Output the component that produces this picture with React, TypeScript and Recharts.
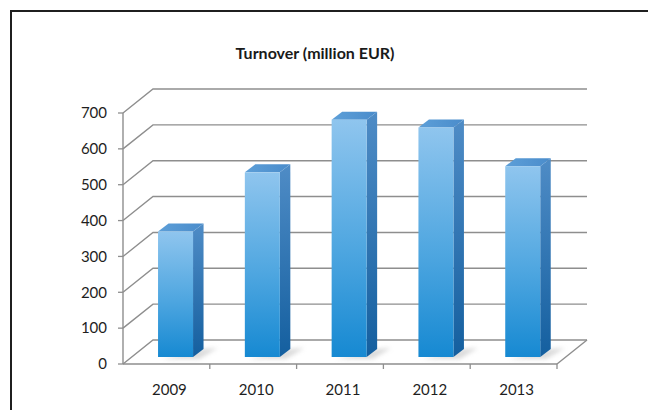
import React from 'react';
import { BarChart, Bar, XAxis, YAxis, CartesianGrid } from 'recharts';

const chartTitle = 'Turnover (million EUR)';
const years = ['2009', '2010', '2011', '2012', '2013'];
const turnover = [350, 515, 662, 640, 532];
const yTicks = [0, 100, 200, 300, 400, 500, 600, 700];

const data = years.map((year, i) => ({ year, value: turnover[i] }));

const W = 648;
const H = 410;
const WALL_DX = 30;
const WALL_DY = -24;
const BAR_SHIFT_X = 9;
const BAR_SHIFT_Y = -7;
const BAR_DX = 10.5;
const BAR_DY = -8;
const PLOT_LEFT = 123;
const PLOT_RIGHT = 557;
const BAND = (PLOT_RIGHT - PLOT_LEFT) / years.length;
const GRID = '#8e8e8e';
const FONT = 'Lato, "Open Sans", sans-serif';

const GridLine = (props: any) => {
  const { x1, y1, x2 } = props;
  return (
    <path
      key={props.key ?? `g-${y1}`}
      d={`M${x1},${y1} L${x1 + WALL_DX},${y1 + WALL_DY} L${x2 + WALL_DX},${y1 + WALL_DY}`}
      fill="none"
      stroke={GRID}
      strokeWidth={1.4}
    />
  );
};

const Bar3D = (props: any) => {
  const { x, y, width, height } = props;
  if (width == null || height == null) return null;
  const fx = x + BAR_SHIFT_X;
  const fy = y + BAR_SHIFT_Y;
  const w = width;
  const b = fy + height;
  return (
    <g>
      <polygon
        points={`${fx + 4},${b + 2} ${fx + w + 6},${b + 2} ${fx + w + BAR_DX + 14},${b + BAR_DY - 1} ${fx + w + BAR_DX},${b + BAR_DY}`}
        fill="#bdbdbd"
        opacity={0.55}
        filter="url(#shadowBlur)"
      />
      <polygon
        points={`${fx + w},${fy} ${fx + w + BAR_DX},${fy + BAR_DY} ${fx + w + BAR_DX},${b + BAR_DY} ${fx + w},${b}`}
        fill="url(#sideGrad)"
      />
      <polygon
        points={`${fx},${fy} ${fx + BAR_DX},${fy + BAR_DY} ${fx + w + BAR_DX},${fy + BAR_DY} ${fx + w},${fy}`}
        fill="url(#topGrad)"
      />
      <rect x={fx} y={fy} width={w} height={height} fill="url(#frontGrad)" />
    </g>
  );
};

const XTick = (props: any) => {
  const { x, y, payload, index } = props;
  const half = BAND / 2;
  return (
    <g>
      <line x1={x + half} y1={y} x2={x + half} y2={y + 5} stroke={GRID} strokeWidth={1.3} />
      {index === years.length - 1 && (
        <line
          x1={x + half}
          y1={y}
          x2={x + half + WALL_DX}
          y2={y + WALL_DY}
          stroke={GRID}
          strokeWidth={1.4}
        />
      )}
      <text
        x={x + 3}
        y={y + 31}
        textAnchor="middle"
        fill="#1e1e1e"
        fontSize={15}
        fontFamily={FONT}
      >
        {payload.value}
      </text>
    </g>
  );
};

export default function App() {
  return (
    <div
      style={{
        position: 'fixed',
        left: 0,
        top: 0,
        width: W,
        height: H,
        overflow: 'hidden',
        background: '#ffffff',
      }}
    >
      <svg
        width={W}
        height={H}
        style={{ position: 'absolute', left: 0, top: 0, display: 'block' }}
      >
        <path d={`M11,${H} L11,11 L${W},11`} fill="none" stroke="#1f1f1f" strokeWidth={2} />
      </svg>
      <div
        style={{
          position: 'absolute',
          left: 0,
          width: 630,
          top: 43,
          textAlign: 'center',
          fontFamily: FONT,
          fontWeight: 700,
          fontSize: 16,
          color: '#1a1a1a',
          lineHeight: '20px',
        }}
      >
        {chartTitle}
      </div>
      <div style={{ position: 'absolute', left: 0, top: 0 }}>
        <BarChart
          width={W}
          height={H}
          data={data}
          margin={{ top: 113, right: W - PLOT_RIGHT, bottom: 16, left: PLOT_LEFT - 60 }}
          barCategoryGap="30%"
        >
          <defs>
            <linearGradient id="frontGrad" x1="0" y1="0" x2="0" y2="1">
              <stop offset="0%" stopColor="#8fc5ee" />
              <stop offset="55%" stopColor="#4ea6e0" />
              <stop offset="100%" stopColor="#1689d2" />
            </linearGradient>
            <linearGradient id="sideGrad" x1="0" y1="0" x2="0" y2="1">
              <stop offset="0%" stopColor="#4f8cc6" />
              <stop offset="100%" stopColor="#145f9f" />
            </linearGradient>
            <linearGradient id="topGrad" x1="0" y1="0" x2="1" y2="0">
              <stop offset="0%" stopColor="#5d9fd8" />
              <stop offset="100%" stopColor="#4a8ccb" />
            </linearGradient>
            <filter id="shadowBlur" x="-50%" y="-50%" width="200%" height="200%">
              <feGaussianBlur stdDeviation="2" />
            </filter>
          </defs>
          <CartesianGrid vertical={false} horizontal={GridLine} />
          <YAxis
            width={60}
            domain={[0, 700]}
            ticks={yTicks}
            interval={0}
            tickSize={5}
            tickMargin={11}
            axisLine={{ stroke: GRID, strokeWidth: 1.4 }}
            tickLine={{ stroke: GRID, strokeWidth: 1.3 }}
            tick={{ fill: '#1e1e1e', fontSize: 15, fontFamily: FONT }}
          />
          <XAxis
            dataKey="year"
            height={30}
            tickSize={0}
            tickMargin={0}
            interval={0}
            axisLine={{ stroke: GRID, strokeWidth: 1.4 }}
            tickLine={false}
            tick={XTick}
          />
          <Bar dataKey="value" shape={Bar3D} isAnimationActive={false} />
        </BarChart>
      </div>
    </div>
  );
}
